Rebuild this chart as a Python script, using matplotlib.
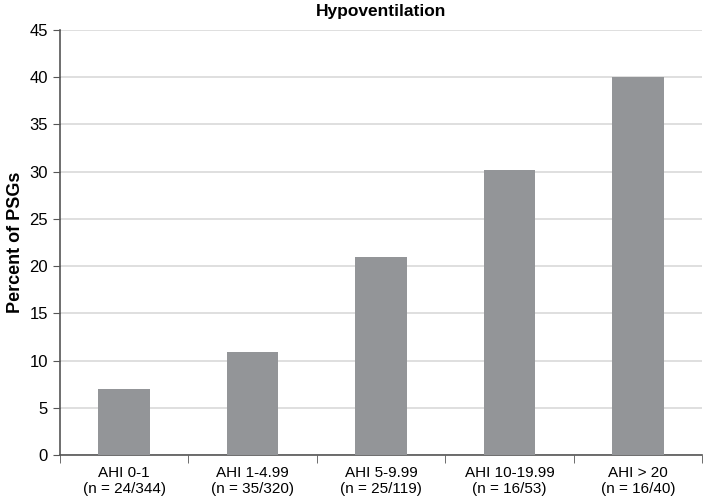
import matplotlib
matplotlib.use("Agg")
import matplotlib.pyplot as plt
import numpy as np

plt.rcParams['font.family'] = ['Liberation Sans', 'DejaVu Sans']

categories = ["AHI 0-1\n(n = 24/344)", "AHI 1-4.99\n(n = 35/320)", "AHI 5-9.99\n(n = 25/119)",
              "AHI 10-19.99\n(n = 16/53)", "AHI > 20\n(n = 16/40)"]
values = [7.0, 10.9, 21.0, 30.2, 40.0]

fig = plt.figure(figsize=(7.03, 5.0), dpi=100)
ax = fig.add_axes([0.085, 0.09, 0.914, 0.85])

x = np.arange(len(categories))
ax.bar(x, values, width=0.4, color='#939598', zorder=3)

ax.set_xlim(-0.5, len(categories) - 0.5)
ax.set_ylim(0, 45)
ax.set_yticks(np.arange(0, 46, 5))
ax.yaxis.grid(True, color='#d9d9d9', linewidth=1.2, zorder=0)
ax.set_axisbelow(True)

ax.set_xticks(x)
ax.set_xticklabels(categories, fontsize=11)
ax.set_xticks(np.arange(-0.5, len(categories)), minor=True)
ax.tick_params(axis='x', which='major', length=0, pad=8)
ax.tick_params(axis='x', which='minor', length=6, color='#555555', direction='out')
ax.tick_params(axis='y', length=5, color='#555555', labelsize=12, direction='out')

for s in ['top', 'right']:
    ax.spines[s].set_visible(False)
for s in ['left', 'bottom']:
    ax.spines[s].set_color('#555555')
    ax.spines[s].set_linewidth(1.2)

ax.set_ylabel("Percent of PSGs", fontsize=13, fontweight='bold')
ax.yaxis.set_label_coords(-0.056, 0.5)
ax.set_title("Hypoventilation", fontsize=12.5, fontweight='bold', pad=10)

fig.savefig("out.png", dpi=100)
